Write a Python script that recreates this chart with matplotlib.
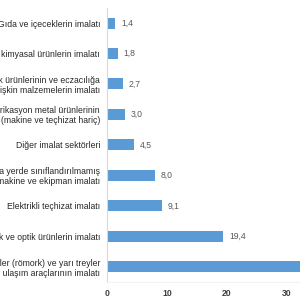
import matplotlib
matplotlib.use('Agg')
import matplotlib.pyplot as plt

# sector labels (top to bottom) and values
sectors = [
    'Gıda ve içeceklerin imalatı',
    'Kimyasallar ve kimyasal ürünlerin imalatı',
    'Temel eczacılık ürünlerinin ve eczacılığa\nilişkin malzemelerin imalatı',
    'Fabrikasyon metal ürünlerinin\nimalatı (makine ve teçhizat hariç)',
    'Diğer imalat sektörleri',
    'Başka yerde sınıflandırılmamış\nmakine ve ekipman imalatı',
    'Elektrikli teçhizat imalatı',
    'Bilgisayarların, elektronik ve optik ürünlerin imalatı',
    'Motorlu kara taşıtı, treyler (römork) ve yarı treyler\n(yarı römork) ile diğer ulaşım araçlarının imalatı',
]
values = [1.4, 1.8, 2.7, 3.0, 4.5, 8.0, 9.1, 19.4, 50.1]
value_labels = ['1,4', '1,8', '2,7', '3,0', '4,5', '8,0', '9,1', '19,4', '50,1']
xticks = [0, 10, 20, 30]

plt.rcParams['font.family'] = ['Liberation Sans', 'DejaVu Sans']

fig = plt.figure(figsize=(3, 3), dpi=100)
# chart is cropped on both sides, so the axes run past the figure edges
ax = fig.add_axes([107/300., 0.06, 1.2, 0.914])

ypos = range(len(values))
ax.barh(ypos, values, height=0.36, color='#5b9bd5')
ax.set_ylim(len(values) - 0.5, -0.5)
ax.set_xlim(0, 60)

for y, v, lab in zip(ypos, values, value_labels):
    ax.annotate(lab, (v, y), xytext=(4, 0), textcoords='offset points',
                va='center', ha='left', fontsize=6.2, color='#595959')

ax.set_yticks(list(ypos))
ax.set_yticklabels(sectors, fontsize=6.2, color='#262626', linespacing=1.15)
ax.set_xticks(xticks)
ax.set_xticklabels([str(t) for t in xticks], fontsize=6.2, fontweight='bold', color='#404040')
ax.tick_params(length=0)
ax.tick_params(axis='y', pad=5)
ax.tick_params(axis='x', pad=5)

for s in ['top', 'right']:
    ax.spines[s].set_visible(False)
ax.spines['left'].set_color('#d9d9d9')
ax.spines['left'].set_linewidth(0.8)
ax.spines['bottom'].set_color('#f0f0f0')
ax.spines['bottom'].set_linewidth(0.6)

fig.savefig('out.png', dpi=100)
